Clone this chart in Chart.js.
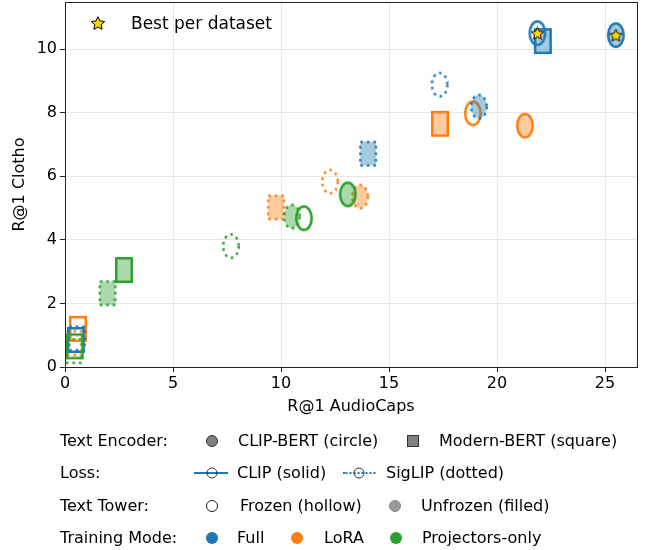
<!DOCTYPE html>
<html>
<head>
<meta charset="utf-8">
<script src="https://cdn.jsdelivr.net/npm/chart.js@4.4.1/dist/chart.umd.min.js"></script>
<style>
  html, body { margin: 0; padding: 0; background: #fff; }
  #wrap { position: relative; width: 651px; height: 550px; font-family: 'DejaVu Sans', sans-serif; color: #000; }
  #wrap canvas { position: absolute; left: 0; top: 0; }
  .lg { position: absolute; font-size: 16px; white-space: nowrap; transform: translateY(-50%); line-height: 1.2; }
  .mk { position: absolute; transform: translate(-50%, -50%); box-sizing: border-box; }
</style>
</head>
<body>
<div id="wrap">
  <canvas id="scatter" width="651" height="550"></canvas>
  <div id="legend"></div>
</div>
<script>
// one entry per configuration, in drawing order (squares first, then circles)
const textEncoder = [
  'Modern-BERT', 'Modern-BERT', 'Modern-BERT', 'Modern-BERT',
  'Modern-BERT', 'Modern-BERT', 'Modern-BERT', 'Modern-BERT',
  'Modern-BERT', 'Modern-BERT', 'Modern-BERT', 'Modern-BERT',
  'CLIP-BERT', 'CLIP-BERT', 'CLIP-BERT', 'CLIP-BERT',
  'CLIP-BERT', 'CLIP-BERT', 'CLIP-BERT', 'CLIP-BERT',
  'CLIP-BERT', 'CLIP-BERT', 'CLIP-BERT', 'CLIP-BERT'
]
const lossType = [
  'CLIP', 'SigLIP', 'CLIP', 'SigLIP', 'CLIP', 'SigLIP', 'CLIP', 'SigLIP', 'CLIP', 'SigLIP', 'CLIP', 'SigLIP',
  'CLIP', 'SigLIP', 'CLIP', 'SigLIP', 'CLIP', 'SigLIP', 'CLIP', 'SigLIP', 'CLIP', 'SigLIP', 'CLIP', 'SigLIP'
]
const textTower = [
  'Frozen', 'Frozen', 'Unfrozen', 'Unfrozen', 'Frozen', 'Frozen', 'Unfrozen', 'Unfrozen', 'Frozen', 'Frozen', 'Unfrozen', 'Unfrozen',
  'Frozen', 'Frozen', 'Unfrozen', 'Unfrozen', 'Frozen', 'Frozen', 'Unfrozen', 'Unfrozen', 'Frozen', 'Frozen', 'Unfrozen', 'Unfrozen'
]
const trainingMode = [
  'LoRA', 'LoRA', 'LoRA', 'LoRA', 'Full', 'Full', 'Full', 'Full', 'Projectors-only', 'Projectors-only', 'Projectors-only', 'Projectors-only',
  'LoRA', 'LoRA', 'LoRA', 'LoRA', 'Full', 'Full', 'Full', 'Full', 'Projectors-only', 'Projectors-only', 'Projectors-only', 'Projectors-only'
]
const r1AudioCaps = [
  0.6, 0.45, 17.36, 9.77, 0.5, 0.55, 22.12, 14.03, 0.45, 0.4, 2.73, 1.97,
  18.88, 12.27, 21.29, 13.66, 21.87, 17.34, 25.5, 19.16, 11.06, 7.68, 13.09, 10.5
]
const r1Clotho = [
  1.2, 0.75, 7.65, 5.02, 0.85, 0.9, 10.25, 6.71, 0.65, 0.5, 3.05, 2.32,
  7.98, 5.83, 7.59, 5.36, 10.5, 8.88, 10.44, 8.19, 4.68, 3.8, 5.43, 4.73
]
const xTicks = [0, 5, 10, 15, 20, 25]
const yTicks = [0, 2, 4, 6, 8, 10]

const modeColors = { Full: '31, 119, 180', LoRA: '255, 127, 14', 'Projectors-only': '44, 160, 44' }

// marker images, drawn once per style and handed to chart.js as pointStyle
const markerCache = {}
function makeMarker (shape, rgb, filled, dotted) {
  const key = [shape, rgb, filled, dotted].join('|')
  if (markerCache[key]) return markerCache[key]
  const c = document.createElement('canvas')
  c.width = 22
  c.height = 30
  const ctx = c.getContext('2d')
  const lw = 2.5
  ctx.beginPath()
  if (shape === 'circle') {
    ctx.ellipse(11, 15, 9 - lw / 2, 13 - lw / 2, 0, 0, Math.PI * 2)
  } else {
    ctx.rect(2 + lw / 2, 2 + lw / 2, 18 - lw, 26 - lw)
  }
  if (filled) {
    ctx.fillStyle = `rgba(${rgb}, 0.4)`
    ctx.fill()
  }
  ctx.lineWidth = lw
  ctx.strokeStyle = `rgb(${rgb})`
  if (dotted) ctx.setLineDash([2.5, 4])
  ctx.stroke()
  markerCache[key] = c
  return c
}

function starPath (ctx, cx, cy, ro, ri) {
  ctx.beginPath()
  for (let i = 0; i < 10; i++) {
    const r = i % 2 === 0 ? ro : ri
    const a = -Math.PI / 2 + i * Math.PI / 5
    ctx.lineTo(cx + r * Math.cos(a), cy + r * Math.sin(a))
  }
  ctx.closePath()
}
function makeStar (ro) {
  const s = Math.ceil(ro * 2 + 4)
  const c = document.createElement('canvas')
  c.width = s
  c.height = s
  const ctx = c.getContext('2d')
  starPath(ctx, s / 2, s / 2 + ro * 0.1, ro, ro * 0.48)
  ctx.fillStyle = '#ffd700'
  ctx.fill()
  ctx.lineWidth = 1
  ctx.strokeStyle = '#000'
  ctx.stroke()
  return c
}

const points = r1AudioCaps.map((x, i) => ({ x, y: r1Clotho[i] }))
const styles = points.map((p, i) => makeMarker(
  textEncoder[i] === 'CLIP-BERT' ? 'circle' : 'square',
  modeColors[trainingMode[i]],
  textTower[i] === 'Unfrozen',
  lossType[i] === 'SigLIP'
))

// best per dataset: highest AudioCaps and highest Clotho
let bestA = 0
let bestC = 0
r1AudioCaps.forEach((v, i) => { if (v > r1AudioCaps[bestA]) bestA = i })
r1Clotho.forEach((v, i) => { if (v > r1Clotho[bestC]) bestC = i })
const bestPoints = [points[bestC], points[bestA]]

const frame = {
  id: 'frame',
  afterDraw (chart) {
    const { ctx, chartArea: a } = chart
    ctx.save()
    ctx.strokeStyle = '#222'
    ctx.lineWidth = 1
    ctx.strokeRect(Math.round(a.left) + 0.5, Math.round(a.top) + 0.5, Math.round(a.right - a.left), Math.round(a.bottom - a.top))
    ctx.restore()
  }
}

const font = { family: 'DejaVu Sans', size: 16 }
new Chart(document.getElementById('scatter'), {
  type: 'scatter',
  data: {
    datasets: [
      // lower order is drawn on top, so the stars get 0
      { data: points, pointStyle: styles, pointRadius: 10, pointHoverRadius: 10, order: 1 },
      { data: bestPoints, pointStyle: makeStar(6.5), pointRadius: 6, order: 0 }
    ]
  },
  options: {
    responsive: false,
    animation: false,
    events: [],
    layout: { autoPadding: false, padding: { left: 0, right: 14, top: 2, bottom: 134 } },
    plugins: { legend: { display: false }, tooltip: { enabled: false } },
    scales: {
      x: {
        type: 'linear',
        min: 0,
        max: 26.48,
        afterFit (s) { s.height = 49; s.paddingLeft = 0; s.paddingRight = 0 },
        afterBuildTicks (s) { s.ticks = xTicks.map(v => ({ value: v })) },
        ticks: { font, color: '#000', padding: 2, includeBounds: false },
        grid: { color: '#e6e6e6', tickColor: '#222', tickLength: 5 },
        border: { color: '#222' },
        title: { display: true, text: 'R@1 AudioCaps', font, color: '#000', padding: 0 }
      },
      y: {
        type: 'linear',
        min: 0,
        max: 11.48,
        afterFit (s) { s.width = 65; s.paddingTop = 0; s.paddingBottom = 0 },
        afterBuildTicks (s) { s.ticks = yTicks.map(v => ({ value: v })) },
        ticks: { font, color: '#000', padding: 3, includeBounds: false },
        grid: { color: '#e6e6e6', tickColor: '#222', tickLength: 5 },
        border: { color: '#222' },
        title: { display: true, text: 'R@1 Clotho', font, color: '#000', padding: { top: 10, bottom: 0 } }
      }
    }
  },
  plugins: [frame]
})

// legend below the plot and the star note in the corner
const legend = document.getElementById('legend')
function addText (text, x, y, size) {
  const d = document.createElement('div')
  d.className = 'lg'
  d.textContent = text
  d.style.left = x + 'px'
  d.style.top = y + 'px'
  if (size) d.style.fontSize = size + 'px'
  legend.appendChild(d)
}
function addMark (x, y, w, h, css) {
  const d = document.createElement('div')
  d.className = 'mk'
  d.style.left = x + 'px'
  d.style.top = y + 'px'
  d.style.width = w + 'px'
  d.style.height = h + 'px'
  d.style.cssText += css
  legend.appendChild(d)
}

const star = makeStar(7)
star.style.left = (98 - star.width / 2) + 'px'
star.style.top = (23 - star.height / 2) + 'px'
legend.appendChild(star)
addText('Best per dataset', 131, 23, 17)

const rowY = [441, 473, 506, 538]
addText('Text Encoder:', 60, rowY[0])
addMark(212, rowY[0], 12, 12, 'border-radius:50%;background:#808080;border:1px solid #333;')
addText('CLIP-BERT (circle)', 238, rowY[0])
addMark(413, rowY[0], 12, 12, 'background:#808080;border:1px solid #333;')
addText('Modern-BERT (square)', 439, rowY[0])

addText('Loss:', 60, rowY[1])
addMark(211, rowY[1], 34, 0, 'border-top:2px solid rgb(31,119,180);')
addMark(212, rowY[1], 11, 11, 'border-radius:50%;border:1.5px solid #333;')
addText('CLIP (solid)', 237, rowY[1])
addMark(359, rowY[1], 33, 0, 'border-top:2px dotted rgb(31,119,180);')
addMark(359, rowY[1], 11, 11, 'border-radius:50%;border:1.5px solid #333;')
addText('SigLIP (dotted)', 386, rowY[1])

addText('Text Tower:', 60, rowY[2])
addMark(212, rowY[2], 12, 12, 'border-radius:50%;background:#fff;border:1px solid #222;')
addText('Frozen (hollow)', 240, rowY[2])
addMark(395, rowY[2], 12, 12, 'border-radius:50%;background:#999;border:1px solid #888;')
addText('Unfrozen (filled)', 421, rowY[2])

addText('Training Mode:', 60, rowY[3])
addMark(212, rowY[3], 12, 12, 'border-radius:50%;background:rgb(31,119,180);')
addText('Full', 237, rowY[3])
addMark(297, rowY[3], 12, 12, 'border-radius:50%;background:rgb(255,127,14);')
addText('LoRA', 324, rowY[3])
addMark(396, rowY[3], 12, 12, 'border-radius:50%;background:rgb(44,160,44);')
addText('Projectors-only', 422, rowY[3])
</script>
</body>
</html>
